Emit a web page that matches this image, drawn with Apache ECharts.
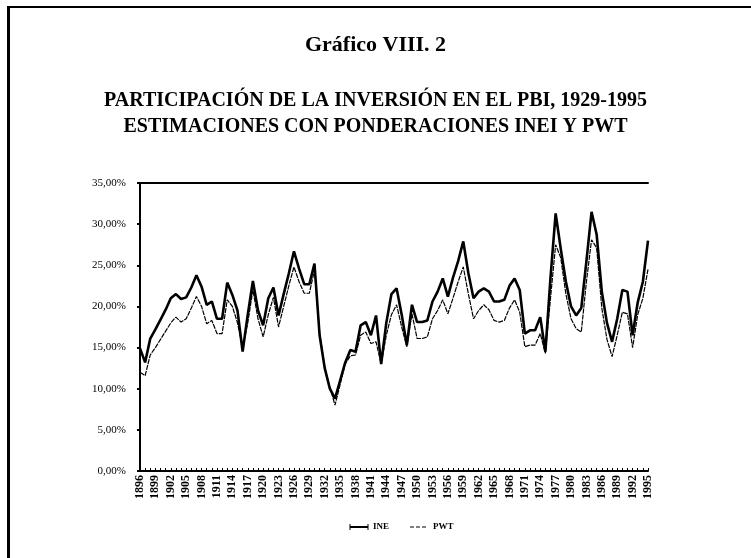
<!DOCTYPE html>
<html>
<head>
<meta charset="utf-8">
<script src="https://cdn.jsdelivr.net/npm/echarts@6/dist/echarts.min.js"></script>
<style>
  html, body { margin: 0; padding: 0; background: #fff; }
  #chart { width: 751px; height: 558px; }
</style>
</head>
<body>
<div id="chart"></div>
<script>
// Años de la serie (1896-1995)
const years = [];
for (let y = 1896; y <= 1995; y++) years.push(String(y));

// Participación de la inversión en el PBI (%), ponderaciones INEI
const ine = [
  14.9, 13.2, 16.1, 17.2, 18.4, 19.6, 21.0, 21.5, 20.9, 21.1,
  22.3, 23.8, 22.4, 20.2, 20.6, 18.5, 18.5, 22.9, 21.4, 19.5,
  14.5, 19.0, 23.1, 19.5, 17.7, 21.0, 22.3, 18.9, 21.5, 24.0,
  26.7, 24.6, 22.7, 22.7, 25.2, 16.5, 12.5, 10.0, 8.8, 11.0,
  13.2, 14.7, 14.5, 17.7, 18.1, 16.5, 18.9, 13.0, 18.0, 21.5,
  22.2, 19.0, 15.3, 20.2, 18.1, 18.1, 18.3, 20.6, 21.8, 23.4,
  21.2, 23.5, 25.5, 27.9, 24.0, 21.0, 21.8, 22.2, 21.8, 20.6,
  20.6, 20.8, 22.5, 23.4, 22.0, 16.7, 17.1, 17.1, 18.7, 14.5,
  23.5, 31.3, 27.0, 23.0, 20.0, 18.9, 19.8, 25.5, 31.5, 28.7,
  21.8, 18.0, 15.7, 18.5, 22.0, 21.8, 16.5, 20.5, 23.0, 28.0
];

// Participación de la inversión en el PBI (%), ponderaciones PWT
const pwt = [
  12.0, 11.6, 14.1, 15.0, 16.0, 17.0, 18.0, 18.7, 18.1, 18.5,
  19.8, 21.2, 20.0, 17.9, 18.3, 16.7, 16.7, 20.8, 20.0, 18.0,
  14.9, 18.0, 22.0, 18.5, 16.3, 19.0, 21.1, 17.5, 20.0, 22.5,
  24.8, 23.0, 21.6, 21.6, 24.4, 16.9, 12.5, 10.2, 8.0, 10.5,
  13.0, 14.0, 14.1, 16.5, 16.9, 15.5, 15.7, 13.0, 16.5, 19.0,
  20.2, 17.5, 15.1, 19.1, 16.1, 16.1, 16.3, 18.5, 19.5, 20.8,
  19.1, 21.0, 23.0, 24.8, 21.5, 18.5, 19.5, 20.2, 19.6, 18.3,
  18.1, 18.3, 19.8, 20.8, 19.3, 15.1, 15.3, 15.3, 16.7, 14.3,
  21.0, 27.5, 25.9, 21.5, 18.5, 17.3, 16.9, 23.0, 28.1, 27.1,
  19.8, 16.0, 13.9, 16.5, 19.3, 19.1, 15.0, 19.0, 21.0, 24.5
];

const yTicks = [0, 5, 10, 15, 20, 25, 30, 35];

const serif = '"Liberation Serif", "DejaVu Serif", serif';

const chart = echarts.init(document.getElementById('chart'), null, { renderer: 'canvas' });

chart.setOption({
  backgroundColor: '#ffffff',
  animation: false,
  title: [
    {
      text: 'Gráfico VIII. 2',
      left: 'center', top: 29,
      textStyle: { fontFamily: serif, fontSize: 22, fontWeight: 'bold', color: '#000' }
    },
    {
      text: 'PARTICIPACIÓN DE LA INVERSIÓN EN EL PBI, 1929-1995',
      left: 'center', top: 86,
      textStyle: { fontFamily: serif, fontSize: 20, fontWeight: 'bold', color: '#000' }
    },
    {
      text: 'ESTIMACIONES CON PONDERACIONES INEI Y PWT',
      left: 'center', top: 112,
      textStyle: { fontFamily: serif, fontSize: 20, fontWeight: 'bold', color: '#000' }
    }
  ],
  grid: { left: 140, top: 183, right: 103, bottom: 87 },
  xAxis: [
    {
      type: 'category',
      data: years,
      boundaryGap: false,
      axisLine: { lineStyle: { color: '#000', width: 2 } },
      axisTick: { inside: true, length: 3, interval: 0, lineStyle: { color: '#000' } },
      axisLabel: {
        interval: 2, rotate: 90, margin: 4,
        fontFamily: serif, fontSize: 12, fontWeight: 'bold', color: '#000'
      },
      splitLine: { show: false }
    },
    {
      type: 'category',
      data: years,
      position: 'top',
      boundaryGap: false,
      axisLine: { lineStyle: { color: '#000', width: 2 } },
      axisTick: { show: false },
      axisLabel: { show: false }
    }
  ],
  yAxis: {
    type: 'value',
    min: yTicks[0], max: yTicks[yTicks.length - 1], interval: 5,
    axisLine: { show: true, lineStyle: { color: '#000', width: 2 } },
    axisTick: { show: true, length: 3, lineStyle: { color: '#000', width: 2 } },
    axisLabel: {
      margin: 14,
      fontFamily: serif, fontSize: 11, color: '#000',
      formatter: v => v.toFixed(2).replace('.', ',') + '%'
    },
    splitLine: { show: false }
  },
  series: [
    {
      name: 'INE', type: 'line', data: ine,
      symbol: 'none',
      lineStyle: { color: '#000', width: 2.6 },
      z: 3
    },
    {
      name: 'PWT', type: 'line', data: pwt,
      symbol: 'none',
      lineStyle: { color: '#000', width: 1.2, type: [5, 1] },
      z: 2
    }
  ],
  graphic: [
    // marco de la página
    { type: 'rect', shape: { x: 7, y: 6, width: 3, height: 552 }, style: { fill: '#000' } },
    { type: 'rect', shape: { x: 7, y: 6, width: 744, height: 2 }, style: { fill: '#000' } },
    // leyenda
    { type: 'line', shape: { x1: 350, y1: 527, x2: 368, y2: 527 }, style: { stroke: '#000', lineWidth: 2 } },
    { type: 'line', shape: { x1: 350, y1: 524, x2: 350, y2: 530 }, style: { stroke: '#000', lineWidth: 1 } },
    { type: 'line', shape: { x1: 368, y1: 524, x2: 368, y2: 530 }, style: { stroke: '#000', lineWidth: 1 } },
    { type: 'text', x: 373, y: 527, style: { text: 'INE', fontFamily: serif, fontSize: 9, fontWeight: 'bold', fill: '#000', verticalAlign: 'middle' } },
    { type: 'line', shape: { x1: 410, y1: 527, x2: 428, y2: 527 }, style: { stroke: '#000', lineWidth: 1, lineDash: [4, 2] } },
    { type: 'text', x: 433, y: 527, style: { text: 'PWT', fontFamily: serif, fontSize: 9, fontWeight: 'bold', fill: '#000', verticalAlign: 'middle' } }
  ]
});
</script>
</body>
</html>
